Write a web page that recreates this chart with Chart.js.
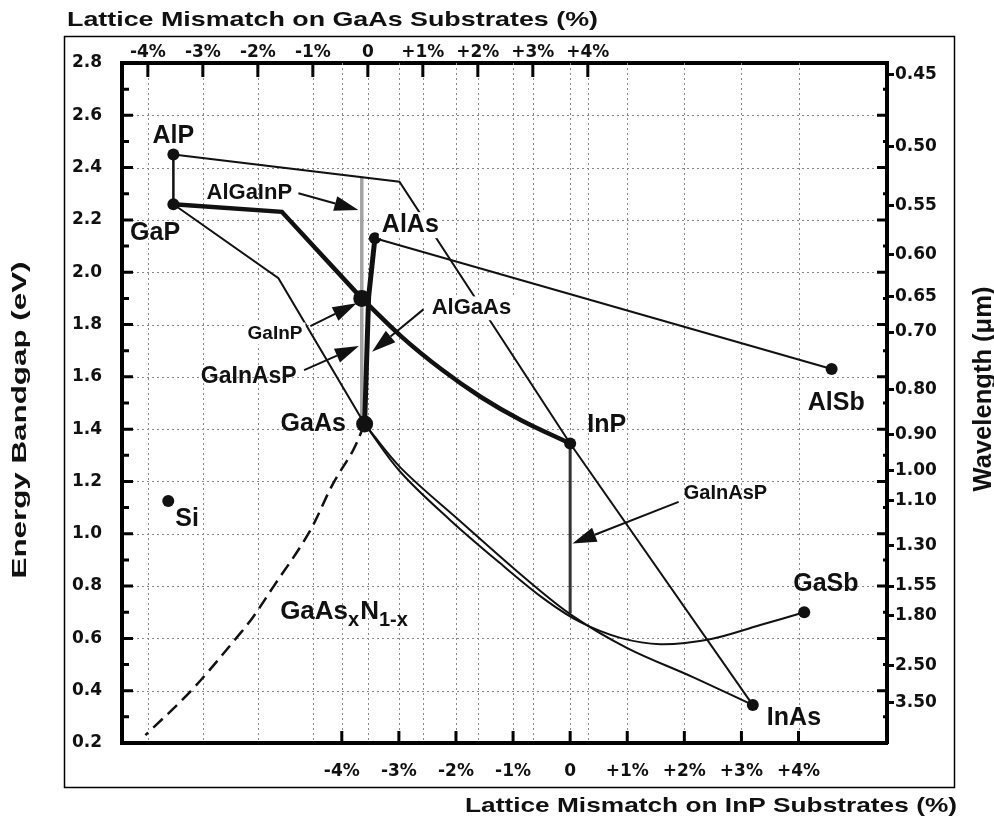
<!DOCTYPE html>
<html>
<head>
<meta charset="utf-8">
<title>Energy bandgap vs lattice mismatch</title>
<script src="https://cdn.jsdelivr.net/npm/chart.js@4.4.0/dist/chart.umd.min.js"></script>
<style>
  html, body { margin: 0; padding: 0; background: #fff; }
  #chart { display: block; }
</style>
</head>
<body>
<canvas id="chart" width="994" height="823"></canvas>
<script>
// ---- axes -------------------------------------------------------------
const MISMATCH_TICKS = [-4, -3, -2, -1, 0, 1, 2, 3, 4];
const MISMATCH_LABELS = ['-4%', '-3%', '-2%', '-1%', '0', '+1%', '+2%', '+3%', '+4%'];
const ENERGY_TICKS = [0.2, 0.4, 0.6, 0.8, 1.0, 1.2, 1.4, 1.6, 1.8, 2.0, 2.2, 2.4, 2.6, 2.8];
const WAVELENGTH_TICKS = [0.45, 0.50, 0.55, 0.60, 0.65, 0.70, 0.80, 0.90, 1.00, 1.10, 1.30, 1.55, 1.80, 2.50, 3.50];
const WAVELENGTH_LABELS = ['0.45', '0.50', '0.55', '0.60', '0.65', '0.70', '0.80', '0.90', '1.00', '1.10', '1.30', '1.55', '1.80', '2.50', '3.50'];

const INP_RANGE = [-7.85, 5.55];   // bottom axis, mismatch to InP (%)
const GAAS_RANGE = [-4.47, 9.44];  // top axis, mismatch to GaAs (%)
const GAP_RANGE = [0.2, 2.8];      // eV
const HC = 1.24;                   // eV * um

// ---- data: x = mismatch to InP (%), y = bandgap (eV) --------------------
const BINARY_NAMES = ['AlP', 'GaP', 'AlAs', 'InP', 'AlSb', 'GaSb', 'InAs', 'Si'];
const BINARY_MISMATCH = [-6.95, -6.95, -3.42, 0.00, 4.58, 4.10, 3.20, -7.04];
const BINARY_GAP = [2.45, 2.26, 2.13, 1.345, 1.63, 0.70, 0.345, 1.125];

const JUNCTION_NAMES = ['GaAs', 'GaInP/GaAs'];
const JUNCTION_MISMATCH = [-3.60, -3.65];
const JUNCTION_GAP = [1.42, 1.90];

const ALP_GAP = [[-6.95, 2.45], [-6.95, 2.26]];
const ALP_INP = [[-6.95, 2.45], [-2.99, 2.346], [0.00, 1.345]];
const INP_INAS = [[0.00, 1.345], [3.20, 0.345]];
const GAP_GAINP = [[-6.95, 2.26], [-5.05, 2.231], [-3.65, 1.90]];
const GAINP_INP = [[-3.65, 1.90], [-2.95, 1.753], [-2.25, 1.628], [-1.55, 1.521], [-0.85, 1.433], [0.00, 1.345]];
const GAP_GAAS = [[-6.95, 2.26], [-5.11, 1.977], [-3.60, 1.42]];
const ALAS_ALSB = [[-3.42, 2.13], [4.58, 1.63]];
const ALAS_GAAS = [[-3.42, 2.13], [-3.53, 1.906], [-3.60, 1.42]];
const ALGAINP_ON_GAAS = [[-3.65, 2.365], [-3.65, 1.42]];
const GAINASP_ON_INP = [[0.00, 1.345], [0.00, 0.696]];
const GAINAS = [[-3.60, 1.42], [-2.98, 1.255], [-1.93, 1.049], [-0.75, 0.823], [0.05, 0.685], [1.00, 0.563], [2.15, 0.452], [3.20, 0.345]];
const GAASSB = [[-3.60, 1.42], [-2.98, 1.238], [-2.10, 1.052], [-1.23, 0.888], [-0.44, 0.748], [0.18, 0.662], [0.88, 0.602], [1.58, 0.578], [2.45, 0.597], [3.33, 0.651], [4.10, 0.70]];
const GAASN = [[-3.60, 1.42], [-3.80, 1.320], [-4.15, 1.193], [-4.58, 1.002], [-5.20, 0.797], [-5.55, 0.683], [-5.78, 0.619], [-6.63, 0.402], [-7.44, 0.230]];

// ---- annotations (placed in data units) --------------------------------
const LABELS = [
    { text: 'AlP', x: -6.95, y: 2.521, size: 25 },
    { text: 'GaP', x: -7.27, y: 2.149, size: 25 },
    { text: 'AlGaInP', x: -5.62, y: 2.302, size: 22 },
    { text: 'AlAs', x: -2.80, y: 2.180, size: 25, knockout: true },
    { text: 'GaInP', x: -5.17, y: 1.766, size: 19, knockout: true },
    { text: 'AlGaAs', x: -1.73, y: 1.862, size: 22, knockout: true },
    { text: 'GaInAsP', x: -5.63, y: 1.600, size: 23 },
    { text: 'GaAs', x: -4.50, y: 1.420, size: 25 },
    { text: 'InP', x: 0.64, y: 1.416, size: 25 },
    { text: 'AlSb', x: 4.66, y: 1.499, size: 25 },
    { text: 'GaInAsP', x: 2.72, y: 1.155, size: 20 },
    { text: 'Si', x: -6.71, y: 1.056, size: 25 },
    { text: 'GaSb', x: 4.48, y: 0.808, size: 25 },
    { text: 'InAs', x: 3.92, y: 0.297, size: 25 }
];

const ARROWS = [
    { from: [-4.76, 2.302], to: [-3.71, 2.238] },
    { from: [-4.55, 1.794], to: [-3.74, 1.881] },
    { from: [-4.66, 1.626], to: [-3.70, 1.718] },
    { from: [-2.57, 1.858], to: [-3.47, 1.696] },
    { from: [1.90, 1.122], to: [0.04, 0.963] }
];

const LABEL_FONT = '"Liberation Sans", Arial, Helvetica, sans-serif';
const TICK_FONT = { family: '"DejaVu Sans", sans-serif', weight: 'bold', size: 17 };
const INK = '#111';

const pts = arr => arr.map(([x, y]) => ({ x, y }));

function curve(data, width, extra) {
    return Object.assign({
        data: pts(data),
        showLine: true,
        borderColor: INK,
        borderWidth: width,
        pointRadius: 0,
        tension: 0,
        fill: false
    }, extra || {});
}

function font(size) {
    return `bold ${size}px ${LABEL_FONT}`;
}

// title text squeezed or widened to a given length
function drawFittedText(ctx, text, x, y, width, size, align, angle) {
    ctx.save();
    ctx.font = font(size);
    const natural = ctx.measureText(text).width;
    ctx.translate(x, y);
    if (angle) ctx.rotate(angle);
    ctx.scale(width / natural, 1);
    ctx.textAlign = align;
    ctx.textBaseline = 'alphabetic';
    ctx.fillStyle = INK;
    ctx.fillText(text, 0, 0);
    ctx.restore();
}

function drawArrow(ctx, x0, y0, x1, y1) {
    const ang = Math.atan2(y1 - y0, x1 - x0);
    const len = 24, half = 7.5;
    const bx = x1 - len * Math.cos(ang), by = y1 - len * Math.sin(ang);
    ctx.beginPath();
    ctx.moveTo(x0, y0);
    ctx.lineTo(bx, by);
    ctx.lineWidth = 2;
    ctx.stroke();
    ctx.beginPath();
    ctx.moveTo(x1, y1);
    ctx.lineTo(bx - half * Math.sin(ang), by + half * Math.cos(ang));
    ctx.lineTo(bx + half * Math.sin(ang), by - half * Math.cos(ang));
    ctx.closePath();
    ctx.fill();
}

// light grid behind the curves, one line per labelled tick
function drawGrid(chart) {
    const { ctx, chartArea: area, scales } = chart;
    ctx.save();
    ctx.strokeStyle = '#888888';
    ctx.lineWidth = 1;
    ctx.setLineDash([2, 3]);
    ctx.beginPath();
    ENERGY_TICKS.slice(1, -1).forEach(v => {
        const py = Math.round(scales.y.getPixelForValue(v)) + 0.5;
        ctx.moveTo(area.left, py);
        ctx.lineTo(area.right, py);
    });
    MISMATCH_TICKS.forEach(v => {
        const a = Math.round(scales.x.getPixelForValue(v)) + 0.5;
        const b = Math.round(scales.x2.getPixelForValue(v)) + 0.5;
        ctx.moveTo(a, area.top);
        ctx.lineTo(a, area.bottom);
        ctx.moveTo(b, area.top);
        ctx.lineTo(b, area.bottom);
    });
    ctx.stroke();
    ctx.restore();
}

const decorations = {
    id: 'decorations',
    afterDraw(chart) {
        const { ctx, chartArea: area, scales } = chart;
        const { x, x2, y } = scales;
        ctx.save();
        ctx.strokeStyle = '#000';
        ctx.fillStyle = INK;
        ctx.lineCap = 'butt';

        // tick marks pointing into the plot
        ctx.lineWidth = 3;
        ctx.beginPath();
        for (let i = 1; i < 26; i++) {
            const py = y.getPixelForValue(GAP_RANGE[0] + i * 0.1);
            const major = i % 2 === 0;
            ctx.moveTo(area.left, py);
            ctx.lineTo(area.left + (major ? 11 : 7), py);
            ctx.moveTo(area.right, py);
            ctx.lineTo(area.right - (major ? 10 : 4), py);
        }
        MISMATCH_TICKS.forEach(v => {
            const top = x2.getPixelForValue(v);
            ctx.moveTo(top, area.top);
            ctx.lineTo(top, area.top + 14);
            const bottom = x.getPixelForValue(v);
            ctx.moveTo(bottom, area.bottom);
            ctx.lineTo(bottom, area.bottom - 12);
        });
        ctx.stroke();

        // outer frame
        ctx.lineWidth = 1.5;
        ctx.strokeRect(64.5, 36.5, 890, 751);

        // axis titles
        drawFittedText(ctx, 'Lattice Mismatch on GaAs Substrates (%)', 67, 26, 531, 21, 'left');
        drawFittedText(ctx, 'Lattice Mismatch on InP Substrates (%)', 957, 812, 492, 21, 'right');
        drawFittedText(ctx, 'Energy Bandgap (eV)', 26, 420, 317, 21, 'center', -Math.PI / 2);
        drawFittedText(ctx, 'Wavelength (μm)', 991, 389, 205, 26, 'center', -Math.PI / 2);

        // compound / alloy labels
        ctx.textAlign = 'center';
        ctx.textBaseline = 'middle';
        LABELS.forEach(l => {
            const px = x.getPixelForValue(l.x), py = y.getPixelForValue(l.y);
            ctx.font = font(l.size);
            if (l.knockout) {
                const w = ctx.measureText(l.text).width;
                const h = l.size * 0.72;
                ctx.fillStyle = '#fff';
                ctx.fillRect(px - w / 2 - 3, py - h / 2 - 4, w + 6, h + 8);
            }
            ctx.fillStyle = INK;
            ctx.fillText(l.text, px, py);
        });

        // GaAs(x)N(1-x) with subscripts
        let gx = x.getPixelForValue(-5.08);
        const gy = y.getPixelForValue(0.70);
        ctx.textAlign = 'left';
        [['GaAs', 26, 0], ['x', 20, 8], ['N', 26, 0], ['1-x', 20, 8]].forEach(([t, s, dy]) => {
            ctx.font = font(s);
            ctx.fillText(t, gx, gy + dy);
            gx += ctx.measureText(t).width + (dy ? 1 : 0);
        });

        // pointer arrows
        ctx.strokeStyle = INK;
        ARROWS.forEach(a => {
            drawArrow(ctx,
                x.getPixelForValue(a.from[0]), y.getPixelForValue(a.from[1]),
                x.getPixelForValue(a.to[0]), y.getPixelForValue(a.to[1]));
        });
        ctx.restore();
    }
};

const tickOpts = (padding, callback) => ({
    padding, callback, autoSkip: false, maxRotation: 0, font: TICK_FONT, color: INK
});
const noGrid = { drawOnChartArea: false, drawTicks: false };
const axisLine = { display: true, color: '#000', width: 4 };

new Chart(document.getElementById('chart'), {
    type: 'scatter',
    data: {
        datasets: [
            {
                label: 'Binaries',
                data: BINARY_NAMES.map((n, i) => ({ x: BINARY_MISMATCH[i], y: BINARY_GAP[i] })),
                pointRadius: 6, pointBackgroundColor: INK, pointBorderWidth: 0, showLine: false
            },
            {
                label: 'Lattice-matched points',
                data: JUNCTION_NAMES.map((n, i) => ({ x: JUNCTION_MISMATCH[i], y: JUNCTION_GAP[i] })),
                pointRadius: 8.5, pointBackgroundColor: INK, pointBorderWidth: 0, showLine: false
            },
            curve(ALAS_GAAS, 5),
            curve(GAP_GAINP, 4.5),
            curve(GAINP_INP, 4.5, { tension: 0.35 }),
            curve(ALP_GAP, 2.5),
            curve(ALP_INP, 2),
            curve(INP_INAS, 2),
            curve(GAP_GAAS, 2),
            curve(ALAS_ALSB, 2),
            curve(GAINAS, 2, { tension: 0.35 }),
            curve(GAASSB, 2, { tension: 0.35 }),
            curve(GAASN, 2.5, { tension: 0.35, borderDash: [13, 7] }),
            curve(GAINASP_ON_INP, 3, { borderColor: '#333' }),
            curve(ALGAINP_ON_GAAS, 3.5, { borderColor: '#a3a3a3' })
        ]
    },
    options: {
        responsive: false,
        animation: false,
        events: [],
        layout: { padding: 0 },
        plugins: { legend: { display: false }, tooltip: { enabled: false } },
        scales: {
            x: {
                type: 'linear', position: 'bottom',
                min: INP_RANGE[0], max: INP_RANGE[1],
                afterFit: s => { s.height = 80; },
                afterBuildTicks: s => { s.ticks = MISMATCH_TICKS.map(v => ({ value: v })); },
                ticks: tickOpts(18, (v, i) => MISMATCH_LABELS[i]),
                grid: noGrid, border: axisLine
            },
            x2: {
                type: 'linear', position: 'top',
                min: GAAS_RANGE[0], max: GAAS_RANGE[1],
                afterFit: s => { s.height = 63; },
                afterBuildTicks: s => { s.ticks = MISMATCH_TICKS.map(v => ({ value: v })); },
                ticks: tickOpts(0, (v, i) => MISMATCH_LABELS[i]),
                grid: noGrid, border: axisLine
            },
            y: {
                type: 'linear', position: 'left',
                min: GAP_RANGE[0], max: GAP_RANGE[1],
                afterFit: s => { s.width = 122; },
                afterBuildTicks: s => { s.ticks = ENERGY_TICKS.map(v => ({ value: v })); },
                ticks: tickOpts(20, v => Number(v).toFixed(1)),
                grid: noGrid, border: axisLine
            },
            y1: {
                type: 'linear', position: 'right',
                min: GAP_RANGE[0], max: GAP_RANGE[1],
                afterFit: s => { s.width = 107; },
                afterBuildTicks: s => { s.ticks = WAVELENGTH_TICKS.map(l => ({ value: HC / l })); },
                ticks: tickOpts(1, (v, i) => WAVELENGTH_LABELS[i]),
                grid: { drawOnChartArea: false, drawTicks: true, tickLength: 7, tickWidth: 3, tickColor: '#000' },
                border: axisLine
            }
        }
    },
    plugins: [{ id: 'gridLines', beforeDatasetsDraw: drawGrid }, decorations]
});
</script>
</body>
</html>
